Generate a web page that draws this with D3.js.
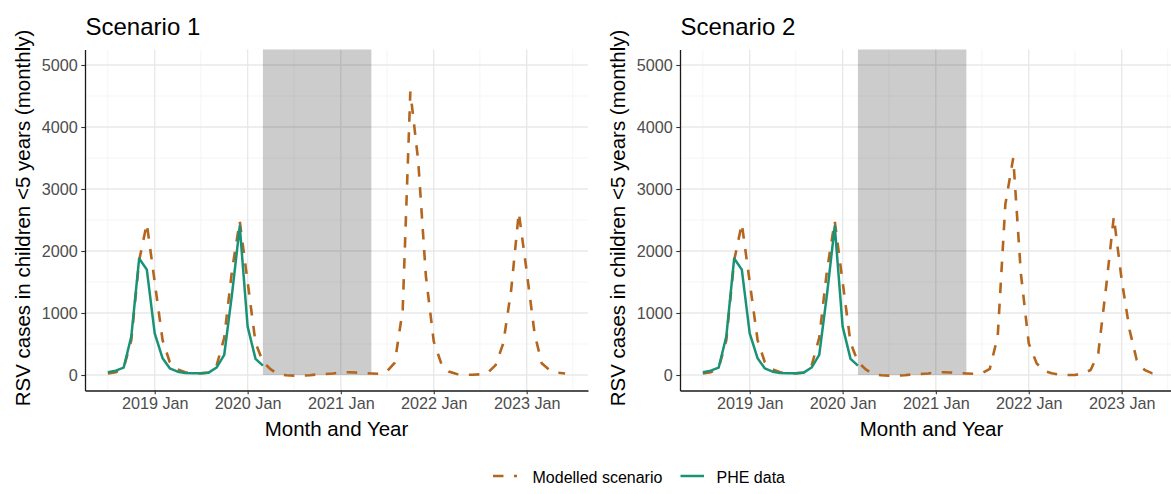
<!DOCTYPE html>
<html>
<head>
<meta charset="utf-8">
<script src="https://cdn.jsdelivr.net/npm/d3@7"></script>
<style>
  body { margin: 0; background: #fff; }
  svg { display: block; font-family: "Liberation Sans", Arial, sans-serif; }
</style>
</head>
<body>
<svg id="chart" width="1171" height="494"></svg>
<script>
// Monthly time points of the model output
const months = [
  "2018-07","2018-08","2018-09","2018-10","2018-11","2018-12",
  "2019-01","2019-02","2019-03","2019-04","2019-05","2019-06","2019-07","2019-08","2019-09","2019-10","2019-11","2019-12",
  "2020-01","2020-02","2020-03","2020-04","2020-05","2020-06","2020-07","2020-08","2020-09","2020-10","2020-11","2020-12",
  "2021-01","2021-02","2021-03","2021-04","2021-05","2021-06","2021-07","2021-08","2021-09","2021-10","2021-11","2021-12",
  "2022-01","2022-02","2022-03","2022-04","2022-05","2022-06","2022-07","2022-08","2022-09","2022-10","2022-11","2022-12",
  "2023-01","2023-02","2023-03","2023-04","2023-05","2023-06"
];

// Modelled monthly RSV cases, children < 5 years
const modelledScenario1 = [
  25, 45, 110, 560, 1850, 2440,
  1500, 560, 210, 90, 45, 30, 27, 40, 150, 600, 1700, 2480,
  1500, 520, 210, 90, 10, -5, -10, -10, -5, 10, 15, 25,
  40, 45, 40, 30, 25, 20, 60, 200, 1050, 4570, 3450, 1600,
  540, 165, 55, 15, 5, 5, 10, 35, 160, 510, 1370, 2620,
  1670, 670, 190, 80, 38, 25
];
const modelledScenario2 = [
  25, 45, 110, 560, 1850, 2440,
  1500, 560, 210, 90, 45, 30, 27, 40, 150, 600, 1700, 2480,
  1500, 520, 210, 90, 10, -5, -10, -10, -5, 10, 15, 25,
  40, 45, 40, 30, 25, 20, 30, 100, 620, 2750, 3500, 1640,
  510, 188, 70, 27, 5, 0, 0, 25, 80, 350, 1425, 2554,
  1532, 726, 242, 80, 27, 15
];

// PHE surveillance data (monthly)
const pheMonths = [
  "2018-07","2018-08","2018-09","2018-10","2018-11","2018-12",
  "2019-01","2019-02","2019-03","2019-04","2019-05","2019-06","2019-07","2019-08","2019-09","2019-10","2019-11","2019-12",
  "2020-01","2020-02","2020-03"
];
const pheData = [
  45, 70, 118, 620, 1880, 1700,
  672, 269, 108, 54, 32, 27, 27, 38, 120, 323, 1317, 2400,
  780, 260, 150
];

// Period of non-pharmaceutical interventions (shaded)
const shadedStart = "2020-03-01";
const shadedEnd = "2021-05-01";

// Axis ticks
const yTicks = [0, 1000, 2000, 3000, 4000, 5000];
const yMinorTicks = [500, 1500, 2500, 3500, 4500];
const xTickDates = ["2019-01", "2020-01", "2021-01", "2022-01", "2023-01"];
const xTickLabels = ["2019 Jan", "2020 Jan", "2021 Jan", "2022 Jan", "2023 Jan"];
const xMinorDates = ["2018-07", "2019-07", "2020-07", "2021-07", "2022-07", "2023-07"];

const panelTitles = ["Scenario 1", "Scenario 2"];
const legendLabels = ["Modelled scenario", "PHE data"];

const parseMonth = d3.utcParse("%Y-%m");
const parseDay = d3.utcParse("%Y-%m-%d");

const colModel = "#b4661f";
const colPhe = "#1a9276";

const svg = d3.select("#chart");
svg.append("rect").attr("width", 1171).attr("height", 494).attr("fill", "#fff");

const panelW = 503, panelH = 341, panelTop = 49.5;

// x domain: data extent expanded by 5% on each side
const ext = d3.extent(months, parseMonth);
const span = ext[1] - ext[0];
const xDomain = [new Date(+ext[0] - 0.05 * span), new Date(+ext[1] + 0.05 * span)];

function drawPanel(left, title, modelled) {
  const W = panelW, H = panelH;
  const g = svg.append("g").attr("transform", `translate(${left},${panelTop})`);
  const x = d3.scaleUtc().domain(xDomain).range([0, W]);
  const y = d3.scaleLinear().domain([-250, 5250]).range([H, 0]);

  // grid: minor then major
  g.selectAll(".ymin").data(yMinorTicks).join("line")
    .attr("x1", 0).attr("x2", W).attr("y1", d => y(d)).attr("y2", d => y(d))
    .attr("stroke", "#f0f0f0").attr("stroke-width", 0.7);
  g.selectAll(".xmin").data(xMinorDates.map(parseMonth)).join("line")
    .attr("y1", 0).attr("y2", H).attr("x1", d => x(d)).attr("x2", d => x(d))
    .attr("stroke", "#f0f0f0").attr("stroke-width", 0.7);
  g.selectAll(".ymaj").data(yTicks).join("line")
    .attr("x1", 0).attr("x2", W).attr("y1", d => y(d)).attr("y2", d => y(d))
    .attr("stroke", "#e8e8e8").attr("stroke-width", 1.3);
  g.selectAll(".xmaj").data(xTickDates.map(parseMonth)).join("line")
    .attr("y1", 0).attr("y2", H).attr("x1", d => x(d)).attr("x2", d => x(d))
    .attr("stroke", "#e8e8e8").attr("stroke-width", 1.3);

  // shaded period, from zero up to the panel top
  g.append("rect")
    .attr("x", x(parseDay(shadedStart)))
    .attr("width", x(parseDay(shadedEnd)) - x(parseDay(shadedStart)))
    .attr("y", 0).attr("height", y(0))
    .attr("fill", "#000").attr("fill-opacity", 0.2);

  const line = d3.line().x(d => x(d[0])).y(d => y(d[1]));

  g.append("path")
    .datum(months.map((m, i) => [parseMonth(m), modelled[i]]))
    .attr("d", line).attr("fill", "none")
    .attr("stroke", colModel).attr("stroke-width", 2.6)
    .attr("stroke-dasharray", "10.5,10.5");

  g.append("path")
    .datum(pheMonths.map((m, i) => [parseMonth(m), pheData[i]]))
    .attr("d", line).attr("fill", "none")
    .attr("stroke", colPhe).attr("stroke-width", 2.5)
    .attr("stroke-linejoin", "round");

  // axes
  const yAxis = g.append("g")
    .call(d3.axisLeft(y).tickValues(yTicks).tickFormat(d3.format("d"))
      .tickSize(3.7).tickSizeOuter(0).tickPadding(3.5));
  const xAxis = g.append("g").attr("transform", `translate(0,${H})`)
    .call(d3.axisBottom(x).tickValues(xTickDates.map(parseMonth)).tickSize(3.7).tickSizeOuter(0).tickPadding(3)
      .tickFormat((d, i) => xTickLabels[i]));
  [yAxis, xAxis].forEach(a => {
    a.select(".domain").attr("stroke", "#1a1a1a").attr("stroke-width", 1.3);
    a.selectAll(".tick line").attr("stroke", "#333").attr("stroke-width", 1.1);
    a.selectAll(".tick text").attr("fill", "#4d4d4d").attr("font-size", 16.2)
      .attr("font-family", '"Liberation Sans", Arial, sans-serif');
  });
  yAxis.selectAll(".tick text").attr("dy", "0.36em");
  xAxis.selectAll(".tick text").attr("dy", "0.71em");

  // titles
  g.append("text").attr("x", 0.5).attr("y", -15)
    .attr("font-size", 24).attr("fill", "#000").text(title);
  g.append("text").attr("x", W / 2).attr("y", H + 45)
    .attr("text-anchor", "middle").attr("font-size", 20.5).attr("fill", "#000")
    .text("Month and Year");
  g.append("text")
    .attr("transform", `translate(${-55.5},${H / 2 - 2}) rotate(-90)`)
    .attr("text-anchor", "middle").attr("font-size", 20.5).attr("fill", "#000")
    .text("RSV cases in children <5 years (monthly)");
}

drawPanel(85, panelTitles[0], modelledScenario1);
drawPanel(680, panelTitles[1], modelledScenario2);

// legend
const lg = svg.append("g");
lg.append("line").attr("x1", 493).attr("x2", 517).attr("y1", 476).attr("y2", 476)
  .attr("stroke", colModel).attr("stroke-width", 2.6).attr("stroke-dasharray", "10.5,10.5");
lg.append("text").attr("x", 532.5).attr("y", 483).attr("font-size", 16).attr("fill", "#000")
  .text(legendLabels[0]);
lg.append("line").attr("x1", 680.5).attr("x2", 704).attr("y1", 476).attr("y2", 476)
  .attr("stroke", colPhe).attr("stroke-width", 2.5);
lg.append("text").attr("x", 716.5).attr("y", 483).attr("font-size", 16).attr("fill", "#000")
  .text(legendLabels[1]);
</script>
</body>
</html>
